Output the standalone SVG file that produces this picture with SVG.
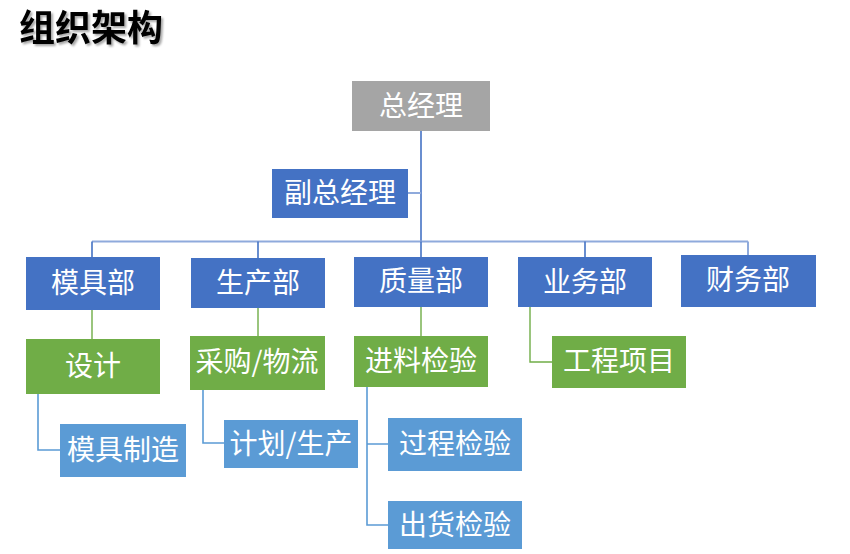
<svg xmlns="http://www.w3.org/2000/svg" width="850" height="554" viewBox="0 0 850 554">
<defs>
<filter id="sh" x="-20%" y="-50%" width="150%" height="200%"><feDropShadow dx="2" dy="2" stdDeviation="1" flood-color="#000" flood-opacity="0.35"/></filter>
</defs>
<style>
.t{font-family:"Noto Sans CJK SC","Noto Sans",sans-serif;font-size:28px;fill:#fff;text-anchor:middle;dominant-baseline:central}
.title{font-family:"Noto Sans CJK SC","Noto Sans",sans-serif;font-size:36px;font-weight:bold}
.gray{fill:#A5A5A5}.blue{fill:#4472C4}.green{fill:#70AD47}.lblue{fill:#5B9BD5}
.cb{stroke:#4472C4;stroke-width:1.6;fill:none}
.ch{stroke:#8FAADC;stroke-width:2;fill:none}
.cg{stroke:#70AD47;stroke-width:1.4;fill:none}
.cl{stroke:#5B9BD5;stroke-width:1.6;fill:none}
</style>
<rect width="850" height="554" fill="#fff"/>
<g filter="url(#sh)"><text class="title" x="19" y="41" fill="#000">组织架构</text></g>
<g id="connectors">
<path class="cb" d="M421 131V241"/>
<path class="ch" d="M408 193H421"/>
<path class="ch" d="M92 241.5H748"/>
<path class="cb" d="M92 241.5V257M258 241.5V258M421 241.5V257M585 241.5V257"/>
<path class="ch" d="M748 241.5V255"/>
<path class="cg" d="M92 310V339M258 308V336M421 307V336M530 307V362H552"/>
<path class="cl" d="M38 394V450H60M203 390V443H224M367 387V525H388M367 444H388"/>
</g>
<g id="n-gm"><rect class="gray" x="352" y="81" width="138" height="50"/><text class="t" x="421" y="104">总经理</text></g>
<g id="n-vgm"><rect class="blue" x="272" y="169" width="136" height="49"/><text class="t" x="340" y="191">副总经理</text></g>
<g id="n-mold"><rect class="blue" x="26" y="257" width="134" height="53"/><text class="t" x="93" y="281">模具部</text></g>
<g id="n-prod"><rect class="blue" x="191" y="258" width="134" height="50"/><text class="t" x="258" y="281">生产部</text></g>
<g id="n-qual"><rect class="blue" x="354" y="257" width="134" height="50"/><text class="t" x="421" y="279">质量部</text></g>
<g id="n-biz"><rect class="blue" x="518" y="257" width="134" height="50"/><text class="t" x="585" y="280">业务部</text></g>
<g id="n-fin"><rect class="blue" x="681" y="255" width="135" height="52"/><text class="t" x="748" y="278">财务部</text></g>
<g id="n-design"><rect class="green" x="26" y="339" width="134" height="55"/><text class="t" x="93" y="364">设计</text></g>
<g id="n-purch"><rect class="green" x="190" y="336" width="135" height="54"/><text class="t" x="257" y="360">采购/物流</text></g>
<g id="n-iqc"><rect class="green" x="354" y="336" width="134" height="51"/><text class="t" x="421" y="359">进料检验</text></g>
<g id="n-proj"><rect class="green" x="552" y="336" width="134" height="52"/><text class="t" x="619" y="359">工程项目</text></g>
<g id="n-make"><rect class="lblue" x="60" y="424" width="126" height="53"/><text class="t" x="123" y="448">模具制造</text></g>
<g id="n-plan"><rect class="lblue" x="224" y="420" width="134" height="48"/><text class="t" x="291" y="442">计划/生产</text></g>
<g id="n-ipqc"><rect class="lblue" x="388" y="418" width="134" height="53"/><text class="t" x="455" y="442">过程检验</text></g>
<g id="n-oqc"><rect class="lblue" x="388" y="501" width="134" height="48"/><text class="t" x="455" y="523">出货检验</text></g>
</svg>
